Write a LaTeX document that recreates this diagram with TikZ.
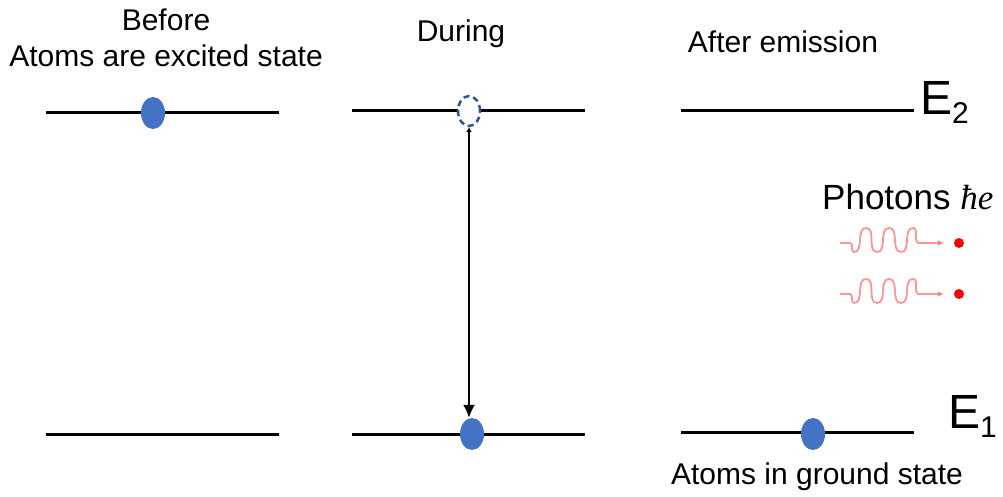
\documentclass[tikz,border=0pt]{standalone}
\usepackage{fontspec}
\setmainfont{Liberation Sans}
\newfontfamily\serifit{Liberation Serif}
\usetikzlibrary{arrows.meta,shapes.geometric}
\definecolor{atomblue}{HTML}{4472C4}
\definecolor{atomedge}{HTML}{2F5597}
\definecolor{wavered}{HTML}{FF7070}
\begin{document}
\begin{tikzpicture}[x=1pt,y=-1pt,
  level/.style={line width=3pt},
  atom/.style={ellipse,fill=atomblue,minimum width=24pt,minimum height=32pt,inner sep=0pt},
  ghost/.style={ellipse,draw=atomedge,dash pattern=on 6pt off 4pt,line width=2.5pt,fill=white,minimum width=22pt,minimum height=30pt,inner sep=0pt},
  lbl/.style={font=\fontsize{30}{36}\selectfont,align=center},
  wave/.style={draw=wavered,line width=1.8pt,opacity=0.75},
  dotp/.style={circle,fill=red,minimum size=10pt,inner sep=0pt}]
\useasboundingbox (0,0) rectangle (1003,497);
% energy levels
\coordinate (a2l) at (46,113); \coordinate (a2r) at (279,113);
\coordinate (a1l) at (46,434); \coordinate (a1r) at (279,434);
\coordinate (b2l) at (352,111); \coordinate (b2r) at (585,111);
\coordinate (b1l) at (352,434); \coordinate (b1r) at (585,434);
\coordinate (c2l) at (681,111); \coordinate (c2r) at (914,111);
\coordinate (c1l) at (681,432); \coordinate (c1r) at (914,432);
\draw[level] (a2l) -- (a2r);
\draw[level] (a1l) -- (a1r);
\draw[level] (b2l) -- (b2r);
\draw[level] (b1l) -- (b1r);
\draw[level] (c2l) -- (c2r);
\draw[level] (c1l) -- (c1r);
% atoms
\node[atom] (atomA) at (153,113) {};
\node[ghost] (atomB) at (469,111) {};
\node[atom] (atomC) at (472,434) {};
\node[atom] (atomD) at (813,434) {};
% transition
\draw[line width=2pt,{Latex[length=5pt,width=6pt]}-{Latex[length=13pt,width=12pt]}] (atomB.south) -- (atomC.north -| atomB.south);
% headings
\node[lbl] (before) at (166,38) {Before\\Atoms are excited state};
\node[lbl] (during) at (461,34) {During};
\node[lbl] (after) at (783,42) {After emission};
\node[lbl] (ground) at (817,477) {Atoms in ground state};
% level labels
\node[font=\fontsize{48}{52}\selectfont,anchor=base west,inner sep=0pt] (e2) at (920,115) {E\raisebox{-9pt}{\fontsize{30}{32}\selectfont 2}};
\node[font=\fontsize{48}{52}\selectfont,anchor=base west,inner sep=0pt] (e1) at (948,428) {E\raisebox{-9pt}{\fontsize{30}{32}\selectfont 1}};
% photons
\node[font=\fontsize{35}{40}\selectfont,anchor=base west,inner sep=0pt] (ph) at (822,209) {Photons {\serifit\itshape ħe}};
\foreach \y/\n in {243/p1,294/p2}{
  \coordinate (\n s) at (840,\y);
  \node[dotp] (\n d) at (959,\y) {};
  \draw[wave,-{Latex[length=6pt,width=6pt]}] (\n s) -- ++(10,0)
    to[out=0,in=180] ++(4,9) to[out=0,in=180] ++(12,-24) to[out=0,in=180] ++(11,24)
    to[out=0,in=180] ++(12,-24) to[out=0,in=180] ++(12,24) to[out=0,in=180] ++(12,-24)
    to[out=0,in=180] ++(6,15) -- ([xshift=-10pt]\n d.west);
}
\end{tikzpicture}
\end{document}
